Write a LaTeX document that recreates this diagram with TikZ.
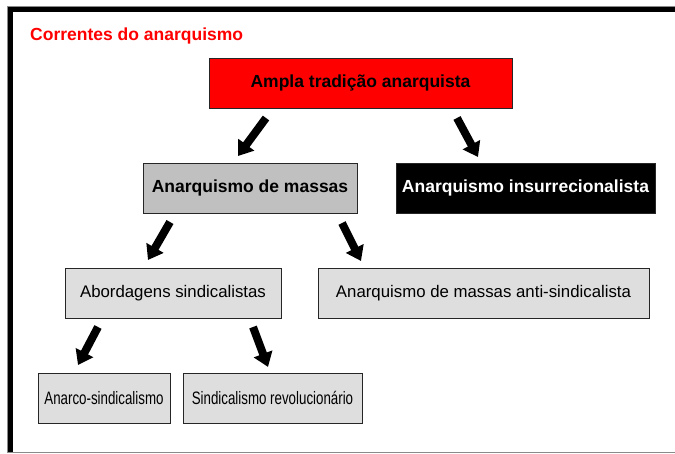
\documentclass[tikz,border=0pt]{standalone}
\usepackage{fontspec}
\setmainfont{Liberation Sans}
\usetikzlibrary{arrows.meta}
\definecolor{boxgray}{HTML}{C0C0C0}
\definecolor{lightbox}{HTML}{DEDEDE}
\definecolor{framegray}{HTML}{8A8A8A}
\newcommand{\narrowtext}[1]{\scalebox{0.74}[1]{#1}}
\begin{document}
\begin{tikzpicture}[x=1pt,y=-1pt,
  base/.style={draw=black!85, line width=0.9pt, inner sep=0pt, minimum height=50pt},
  boldtxt/.style={font=\fontsize{17.5}{20}\selectfont\bfseries},
  regtxt/.style={font=\fontsize{16.8}{19}\selectfont},
  bigtxt/.style={font=\fontsize{18}{21}\selectfont},
  redbox/.style={base, boldtxt, fill=red, text=black},
  graybox/.style={base, boldtxt, fill=boxgray, text=black},
  blackbox/.style={base, boldtxt, fill=black, text=white},
  lightboxst/.style={base, regtxt, fill=lightbox, text=black},
  narrowbox/.style={base, bigtxt, fill=lightbox, text=black},
  blockarrow/.style={line width=8pt, -{Triangle[width=19pt,length=14pt]}, black}
]
\useasboundingbox (0,0) rectangle (675,454);
% frame
\draw[framegray, line width=1pt] (7.5,452.5) -- (7.5,6.5) -- (676,6.5);
\draw[framegray, line width=1pt] (7.5,452.5) -- (676,452.5);
\fill[black] (8,7) rectangle (676,12);
\fill[black] (8,7) rectangle (13,452);
% title
\node[anchor=west, inner sep=0pt, text=red, boldtxt] (title) at (30,36) {Correntes do anarquismo};
% boxes
\node[redbox, minimum width=303pt] (ampla) at (360.5,83) {Ampla tradição anarquista};
\node[graybox, minimum width=214pt] (massas) at (250,188) {Anarquismo de massas};
\node[blackbox, minimum width=259pt] (insur) at (525.5,188) {Anarquismo insurrecionalista};
\node[lightboxst, minimum width=216pt] (abord) at (173,293) {Abordagens sindicalistas};
\node[lightboxst, minimum width=331pt] (anti) at (483.5,293) {Anarquismo de massas anti-sindicalista};
\node[narrowbox, minimum width=132pt] (anarco) at (104,398) {\narrowtext{Anarco-sindicalismo}};
\node[narrowbox, minimum width=179pt] (sindic) at (272.5,398) {\narrowtext{Sindicalismo revolucionário}};
% arrow end points
\coordinate (a1s) at (266,118); \coordinate (a1e) at (238,156);
\coordinate (a2s) at (457,118); \coordinate (a2e) at (478,157);
\coordinate (a3s) at (170,222); \coordinate (a3e) at (148,260);
\coordinate (a4s) at (342,223); \coordinate (a4e) at (361,261);
\coordinate (a5s) at (98,327);  \coordinate (a5e) at (78,365);
\coordinate (a6s) at (253,327); \coordinate (a6e) at (268,367);
\draw[blockarrow] (a1s) -- (a1e);
\draw[blockarrow] (a2s) -- (a2e);
\draw[blockarrow] (a3s) -- (a3e);
\draw[blockarrow] (a4s) -- (a4e);
\draw[blockarrow] (a5s) -- (a5e);
\draw[blockarrow] (a6s) -- (a6e);
\end{tikzpicture}
\end{document}
